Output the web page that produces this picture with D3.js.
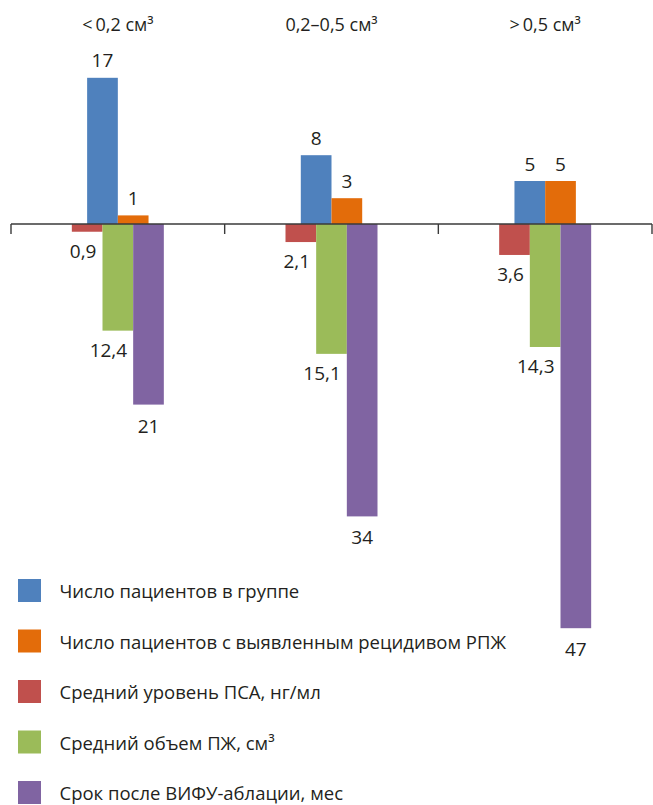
<!DOCTYPE html>
<html><head><meta charset="utf-8">
<script src="https://cdn.jsdelivr.net/npm/d3@7"></script>
<style>
html,body{margin:0;padding:0;background:#fff;}
svg{display:block;font-family:"Open Sans","Noto Sans",sans-serif;}
</style></head>
<body>
<svg id="chart" width="653" height="805"></svg>
<script>
const categories = ["<\u20090,2 см³", "0,2–0,5 см³", ">\u20090,5 см³"];
const patients = [17, 8, 5];
const relapse = [1, 3, 5];
const psa = [0.9, 2.1, 3.6];
const volume = [12.4, 15.1, 14.3];
const months = [21, 34, 47];
const seriesNames = [
  "Число пациентов в группе",
  "Число пациентов с выявленным рецидивом РПЖ",
  "Средний уровень ПСА, нг/мл",
  "Средний объем ПЖ, см³",
  "Срок после ВИФУ-аблации, мес"
];
const colors = ["#4F81BD", "#E36C0A", "#C0504D", "#9BBB59", "#8064A2"];

const svg = d3.select("#chart");
const textColor = "#231F20";

const x = d3.scaleBand().domain(categories).range([11, 652]).paddingInner(0).paddingOuter(0);
const y = d3.scaleLinear().domain([-47, 17]).range([628.2, 77.8]);

const posKeys = ["patients", "relapse"];
const negKeys = ["psa", "volume", "months"];
const xPos = d3.scaleBand().domain(posKeys).range([-30.7, 30.7]);
const xNeg = d3.scaleBand().domain(negKeys).range([-46, 46]);

const posData = {patients, relapse};
const negData = {psa, volume, months};
const colorOf = {patients: colors[0], relapse: colors[1], psa: colors[2], volume: colors[3], months: colors[4]};

const center = c => x(c) + x.bandwidth() / 2;

// positive bars
posKeys.forEach(k => {
  const g = svg.append("g");
  g.selectAll("rect").data(categories).join("rect")
    .attr("x", c => center(c) + xPos(k))
    .attr("width", xPos.bandwidth())
    .attr("y", (c, i) => y(posData[k][i]))
    .attr("height", (c, i) => y(0) - y(posData[k][i]))
    .attr("fill", colorOf[k]);
  g.selectAll("text").data(categories).join("text")
    .attr("x", c => center(c) + xPos(k) + xPos.bandwidth() / 2)
    .attr("y", (c, i) => y(posData[k][i]) - 10.5)
    .attr("text-anchor", "middle")
    .attr("font-size", 19)
    .attr("fill", textColor)
    .text((c, i) => String(posData[k][i]).replace(".", ","));
});

// negative bars
negKeys.forEach((k, ki) => {
  const g = svg.append("g");
  g.selectAll("rect").data(categories).join("rect")
    .attr("x", c => center(c) + xNeg(k))
    .attr("width", xNeg.bandwidth())
    .attr("y", y(0))
    .attr("height", (c, i) => y(-negData[k][i]) - y(0))
    .attr("fill", colorOf[k]);
  const isLast = ki === negKeys.length - 1;
  g.selectAll("text").data(categories).join("text")
    .attr("x", c => isLast
      ? center(c) + xNeg(k) + xNeg.bandwidth() / 2
      : center(c) + xNeg(k) + xNeg.bandwidth() - 6)
    .attr("y", (c, i) => y(-negData[k][i]) + (isLast ? 28 : 26))
    .attr("text-anchor", isLast ? "middle" : "end")
    .attr("font-size", 19)
    .attr("fill", textColor)
    .text((c, i) => String(negData[k][i]).replace(".", ","));
});

// axis
const axisColor = "#3a3a3a";
const [r0, r1] = x.range();
svg.append("line")
  .attr("x1", r0).attr("x2", r1)
  .attr("y1", y(0)).attr("y2", y(0))
  .attr("stroke", axisColor).attr("stroke-width", 1.4);
const tickXs = categories.map(c => x(c)).concat([r1]);
svg.append("g").selectAll("line").data(tickXs).join("line")
  .attr("x1", d => d).attr("x2", d => d)
  .attr("y1", y(0)).attr("y2", y(0) + 10)
  .attr("stroke", axisColor).attr("stroke-width", 1.4);

// category titles
svg.append("g").selectAll("text").data(categories).join("text")
  .attr("x", c => center(c))
  .attr("y", 31)
  .attr("text-anchor", "middle")
  .attr("font-size", 18)
  .attr("fill", textColor)
  .text(c => c);

// legend
const legend = svg.append("g");
seriesNames.forEach((name, i) => {
  const top = 579 + i * 50.5;
  legend.append("rect")
    .attr("x", 18).attr("y", top).attr("width", 23).attr("height", 23)
    .attr("fill", colors[i]);
  legend.append("text")
    .attr("x", 59.5).attr("y", top + 19)
    .attr("font-size", 18.5)
    .attr("fill", textColor)
    .text(name);
});
</script>
</body></html>
